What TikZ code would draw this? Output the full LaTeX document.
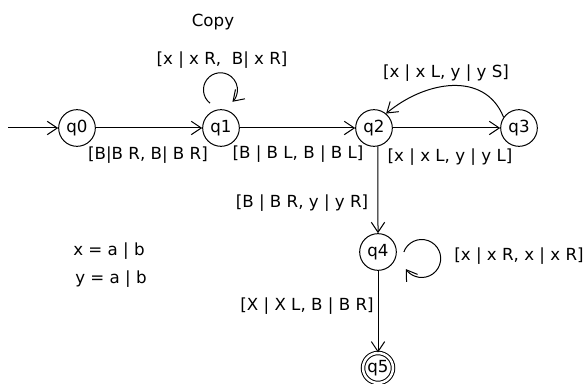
\documentclass[tikz,border=0pt]{standalone}
\usepackage{fontspec}
\setmainfont{DejaVu Sans}
\usetikzlibrary{arrows.meta}
\usetikzlibrary{calc}

\begin{document}
\begin{tikzpicture}[x=0.6pt, y=0.6pt, line width=0.6pt, font=\fontsize{10}{12}\selectfont,
  state/.style={circle, draw, inner sep=0pt, minimum size=22pt},
  >={Straight Barb[length=6pt,width=8pt]}]
\useasboundingbox (0,0) rectangle (585,384);
\node[state] (q0) at (77,256) {q0};
\node[state] (q1) at (221,256) {q1};
\node[state] (q2) at (374,256) {q2};
\node[state] (q3) at (519,256) {q3};
\node[state] (q4) at (378,132) {q4};
\node[state, double, double distance=1.5pt, minimum size=18pt] (q5) at (378,16) {q5};
\coordinate (start) at (8,256);
\draw[->] (start) -- (q0);
\draw[->] (q0) -- (q1);
\draw[->] (q1) -- (q2);
\draw[->] (q2) -- (q3);
\draw[->] (q3.145) to[out=112,in=40,looseness=1.1] (q2.50);
\draw[->] (q2.-78) -- (q4.north);
\draw[->] (q4) -- (q5);
\draw[->] ($(q1.north)+(-11,6)$) arc[start angle=232, end angle=-45, radius=17];
\draw[->] ($(q4.east)+(7,0)$) arc[start angle=160, end angle=-146, radius=19];
\node (title) at (213,362) {Copy};
\node (l11) at (222,324) {[x | x R,~ B| x R]};
\node (l01) at (148,229) {[B|B R, B| B R]};
\node (l12) at (298,230) {[B | B L, B | B L]};
\node (l23) at (450,227) {[x | x L, y | y L]};
\node (l32) at (446,311) {[x | x L, y | y S]};
\node (l24) at (302,181) {[B | B R, y | y R]};
\node (l44) at (519,128) {[x | x R, x | x R]};
\node (l45) at (307,78) {[X | X L, B | B R]};
\node (defx) at (109,133) {x = a | b};
\node (defy) at (111,105) {y = a | b};
\end{tikzpicture}
\end{document}
